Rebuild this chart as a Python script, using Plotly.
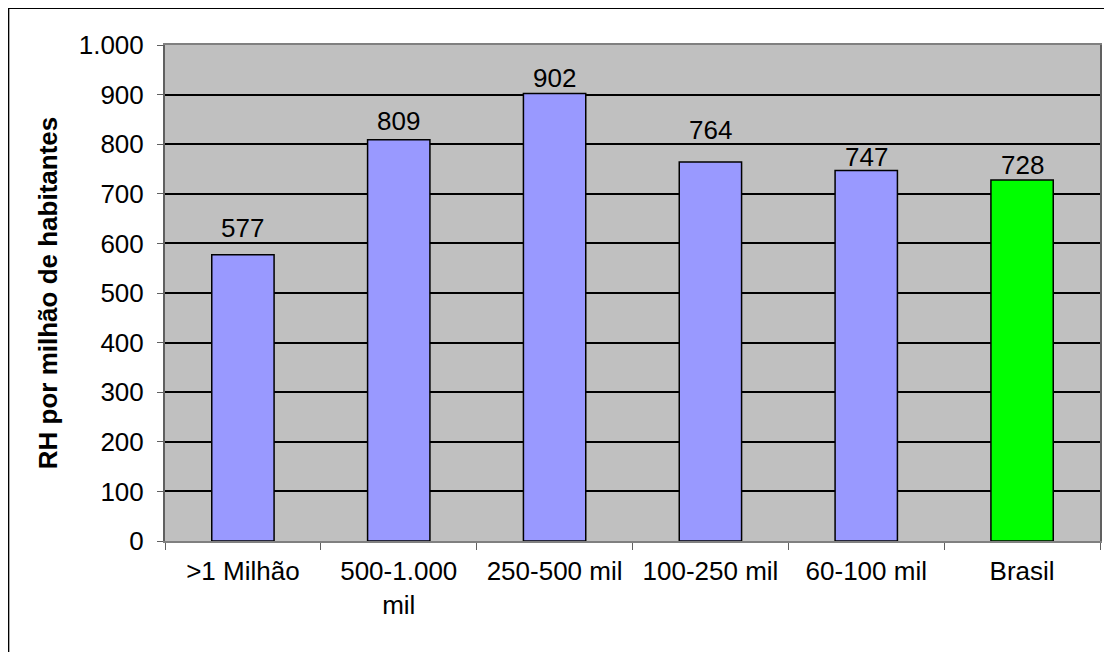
import plotly.graph_objects as go

# ============================================================
# DATA
# ============================================================
categories = [">1 Milhão", "500-1.000<br>mil", "250-500 mil", "100-250 mil", "60-100 mil", "Brasil"]
values = [577, 809, 902, 764, 747, 728]
bar_colors = ["#9999FF", "#9999FF", "#9999FF", "#9999FF", "#9999FF", "#00FF00"]
y_ticks = [0, 100, 200, 300, 400, 500, 600, 700, 800, 900, 1000]

# gap (px) between value label baseline and bar top, labels were hand-placed
label_gap = [17, 9, 6, 22, 3, 5]

# the page body has an 8px margin, so the figure is shrunk by it
W, H = 1104, 644
L, R, T, B = 157, 10, 37, 111
pw, ph = W - L - R, H - T - B


def px_x(p):
    return (p - L) / pw


def px_y(p):
    return (H - B - p) / ph


FONT = "Liberation Sans, Arial"

fig = go.Figure(
    go.Bar(
        x=categories,
        y=values,
        width=0.4,
        marker=dict(color=bar_colors, line=dict(color="black", width=1.5)),
        hoverinfo="x+y",
    )
)

for cat, v, gap in zip(categories, values, label_gap):
    fig.add_annotation(
        x=cat, y=v, text=str(v),
        showarrow=False, yanchor="bottom",
        yshift=gap - 7,
        font=dict(size=26, color="black", family=FONT),
    )

fig.update_layout(
    width=W,
    height=H,
    margin=dict(l=L, r=R, t=T, b=B),
    paper_bgcolor="white",
    plot_bgcolor="#C0C0C0",
    separators=",.",
    font=dict(family=FONT, size=26, color="black"),
    showlegend=False,
    shapes=[
        # outer chart border (partly off-screen in the reference)
        dict(type="rect", xref="paper", yref="paper",
             x0=px_x(0), x1=px_x(1130), y0=px_y(0), y1=px_y(670),
             line=dict(color="black", width=2), layer="below"),
    ],
)

fig.update_xaxes(
    showgrid=False,
    showline=True, linecolor="#808080", linewidth=2, mirror=True,
    ticks="outside", ticklen=7, tickcolor="#606060",
    tickson="boundaries",
    ticklabelstandoff=6,
    tickfont=dict(size=26),
)

fig.update_yaxes(
    range=[0, 1000],
    tickvals=y_ticks,
    tickformat=",d",
    showgrid=True, gridcolor="black", gridwidth=1.5,
    showline=True, linecolor="#606060", linewidth=2, mirror=True,
    ticks="outside", ticklen=6, tickcolor="#606060",
    ticklabelstandoff=8,
    tickfont=dict(size=26),
    zeroline=False,
    title=dict(text="<b>RH por milhão de habitantes</b>", font=dict(size=26), standoff=14),
)

fig.write_html("out.html")
